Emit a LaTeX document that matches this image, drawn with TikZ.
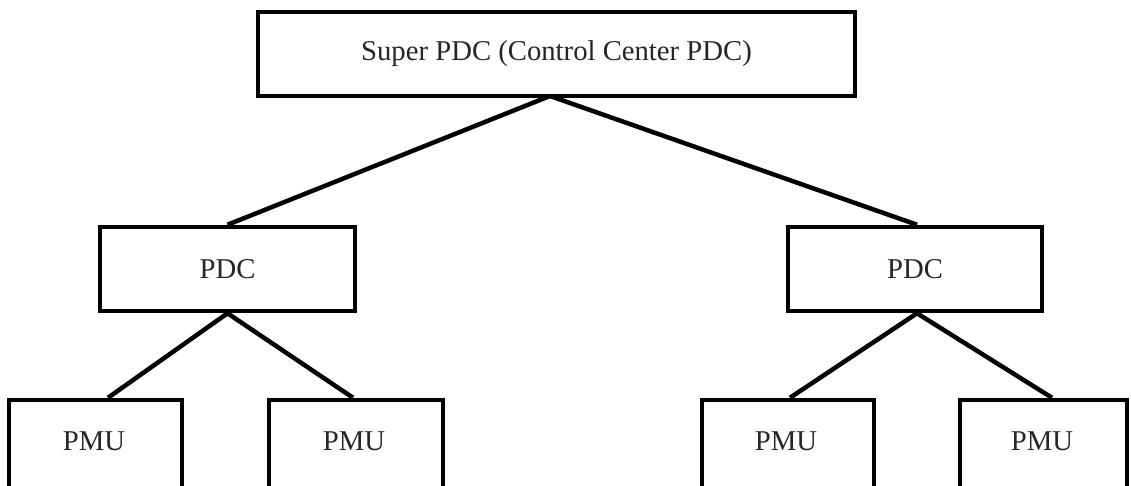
\documentclass[tikz,border=0pt]{standalone}
\usepackage{fontspec}
\setmainfont{Liberation Serif}
\usetikzlibrary{calc}
\begin{document}
\begin{tikzpicture}[x=1pt,y=-1pt,
  box/.style={draw=black, line width=4.5pt, fill=white, inner sep=0pt,
    font=\fontsize{28.7}{34}\selectfont, text=black!85},
  link/.style={draw=black, line width=4.5pt}]
  \useasboundingbox (0,0) rectangle (1131,485);
  \clip (0,0) rectangle (1131,485);

  % top level
  \node[box, minimum width=597pt, minimum height=84pt] (super) at (556.5,54) {Super PDC (Control Center PDC)};

  % data concentrators
  \node[box, minimum width=255pt, minimum height=84pt] (lpdc) at (227.5,269) {PDC};
  \node[box, minimum width=254pt, minimum height=84pt] (rpdc) at (915,269) {PDC};

  % measurement units (boxes run past the lower edge)
  \node[box, minimum width=173pt, minimum height=100pt] (pmu1) at (95.5,450) {};
  \node[box, minimum width=174pt, minimum height=100pt] (pmu2) at (356,450) {};
  \node[box, minimum width=172pt, minimum height=100pt] (pmu3) at (788,450) {};
  \node[box, minimum width=167pt, minimum height=100pt] (pmu4) at (1043.5,450) {};
  \node[font=\fontsize{28.7}{34}\selectfont, text=black!85] (t1) at (94,441) {PMU};
  \node[font=\fontsize{28.7}{34}\selectfont, text=black!85] (t2) at (354,441) {PMU};
  \node[font=\fontsize{28.7}{34}\selectfont, text=black!85] (t3) at (786,441) {PMU};
  \node[font=\fontsize{28.7}{34}\selectfont, text=black!85] (t4) at (1042,441) {PMU};

  \coordinate (sApex) at (550,96);

  % connectors
  \draw[link] ([xshift=-50pt]sApex) -- (sApex) -- ([xshift=50pt]sApex);
  \draw[link] (sApex) -- (lpdc.north);
  \draw[link] (sApex) -- ([xshift=2pt]rpdc.north);
  \draw[link] (lpdc.south) -- ([xshift=12.5pt]pmu1.north);
  \draw[link] (lpdc.south) -- ([xshift=-3pt]pmu2.north);
  \draw[link] ([xshift=2pt]rpdc.south) -- ([xshift=2pt]pmu3.north);
  \draw[link] ([xshift=2pt]rpdc.south) -- ([xshift=8.5pt]pmu4.north);
\end{tikzpicture}
\end{document}
